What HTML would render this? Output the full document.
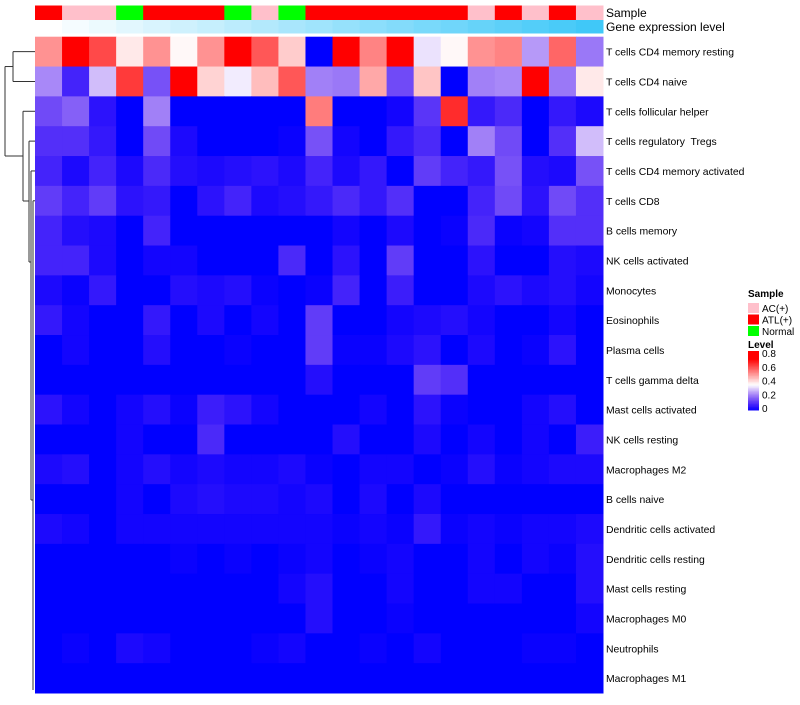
<!DOCTYPE html>
<html><head><meta charset="utf-8"><style>
body{margin:0;background:#fff;width:800px;height:700px;overflow:hidden;font-family:"Liberation Sans",sans-serif}
svg text{font-family:"Liberation Sans",sans-serif;white-space:pre}
</style></head><body>
<svg id="chart" width="800" height="700" xmlns="http://www.w3.org/2000/svg"></svg>
<script>
const rowLabels=["T cells CD4 memory resting","T cells CD4 naive","T cells follicular helper","T cells regulatory  Tregs","T cells CD4 memory activated","T cells CD8","B cells memory","NK cells activated","Monocytes","Eosinophils","Plasma cells","T cells gamma delta","Mast cells activated","NK cells resting","Macrophages M2","B cells naive","Dendritic cells activated","Dendritic cells resting","Mast cells resting","Macrophages M0","Neutrophils","Macrophages M1"];
const sampleGroups=["ATL(+)","AC(+)","AC(+)","Normal","ATL(+)","ATL(+)","ATL(+)","Normal","AC(+)","Normal","ATL(+)","ATL(+)","ATL(+)","ATL(+)","ATL(+)","ATL(+)","AC(+)","ATL(+)","AC(+)","ATL(+)","AC(+)"];
const geneLevel=[0,0.05,0.1,0.15,0.2,0.25,0.3,0.35,0.4,0.45,0.5,0.55,0.6,0.65,0.7,0.75,0.8,0.85,0.9,0.95,1];
const legendTicks=[0.8,0.6,0.4,0.2,0];
const v1=[.5,.7,.6,.38,.5,.36,.5,.7,.58,.42,0,.7,.52,.7,.32,.36,.5,.52,.24,.56,.2];
const v2=[.22,.08,.28,.62,.15,.7,.41,.33,.44,.58,.21,.2,.47,.14,.43,0,.21,.22,.7,.2,.38];
const v3=[.14,.17,.05,0,.21,0,0,0,0,0,.53,0,0,.02,.11,.64,.06,.09,0,.06,.03];
const v4=[.1,.1,.06,0,.14,.03,0,0,0,.01,.15,.02,0,.06,.09,0,.21,.14,0,.1,.28];
const v5=[.08,.03,.08,.03,.09,.04,.03,.04,.05,.03,.08,.03,.06,0,.12,.08,.06,.15,.04,.03,.15];
const v6=[.12,.08,.12,.05,.06,0,.05,.08,.03,.04,.06,.09,.06,.1,0,0,.08,.14,.05,.14,.1];
const v7=[.08,.04,.03,0,.08,0,0,0,0,0,0,.02,0,.03,0,.01,.09,.01,.02,.1,.1];
const v8=[.08,.08,.03,0,.02,.02,0,0,0,.09,0,.05,0,.12,0,0,.05,0,0,.04,.03];
const v9=[.03,.01,.06,0,0,.04,.03,.04,.01,0,.01,.08,0,.07,0,0,.03,.05,.03,.04,.02];
const v10=[.06,.02,0,0,.06,0,.03,0,.02,0,.12,0,0,.02,.03,.04,.02,0,0,.02,0];
const v11=[0,.02,0,0,.04,0,0,.01,0,0,.12,.01,.01,.03,.05,0,.03,0,.01,.05,0];
const v12=[0,0,0,0,0,0,0,0,0,0,.04,0,0,0,.12,.1,0,0,0,0,0];
const v13=[.05,.02,0,.02,.04,.01,.07,.05,.02,0,0,0,.02,0,.05,.01,0,0,.02,.04,0];
const v14=[0,0,0,.02,0,0,.09,0,0,0,0,.04,0,0,.03,0,.02,0,.02,0,.07];
const v15=[.03,.04,0,.02,.04,.02,.03,.02,.02,.03,.01,0,.02,.02,0,.01,.04,.01,.02,.03,.03];
const v16=[0,0,0,.02,0,.03,.04,.03,.03,.02,.03,0,.03,0,.03,0,0,0,0,0,0];
const v17=[.03,.02,0,.02,.02,.02,.02,.02,.02,.02,.02,.01,.02,.01,.06,.01,.02,.01,.02,.02,.03];
const v18=[0,0,0,0,0,.01,0,.01,0,.01,.02,0,.01,.02,0,0,.02,0,.02,.01,.04];
const v19=[0,0,0,0,0,0,0,0,0,.02,.04,0,0,.02,0,0,.02,.02,0,0,.04];
const v20=[0,0,0,0,0,0,0,0,0,0,.04,0,0,.01,0,0,0,0,0,0,.02];
const v21=[0,.01,0,.03,.02,0,0,0,.01,.02,0,0,.01,0,.02,0,0,0,.01,.01,0];
const v22=[0,0,0,0,0,0,0,0,0,0,0,0,0,0,0,0,0,0,0,0,0];
const values=[v1,v2,v3,v4,v5,v6,v7,v8,v9,v10,v11,v12,v13,v14,v15,v16,v17,v18,v19,v20,v21,v22];
const groupColors={"AC(+)":"#FFC0CB","ATL(+)":"#FF0000","Normal":"#00FF00"};

const NS="http://www.w3.org/2000/svg";
const svg=document.getElementById('chart');
function mk(tag,attrs,parent){const e=document.createElementNS(NS,tag);for(const k in attrs)e.setAttribute(k,attrs[k]);(parent||svg).appendChild(e);return e;}
const X0=35,X1=603,Y0=36.7,Y1=693;
const nC=sampleGroups.length,nR=rowLabels.length;
const cw=(X1-X0)/nC,rh=(Y1-Y0)/nR;
const xPos=c=>X0+c*cw;
const yPos=r=>Y0+r*rh;
function heatColor(v){
  const w=0.35,rd=0.7;
  let r,g,b;
  if(v<=w){const t=Math.max(0,v)/w;r=255*Math.pow(t,0.9);g=255*Math.pow(t,1.35);b=255-8*Math.sin(Math.PI*t);}
  else{const t=Math.min(1,(v-w)/(rd-w));r=255;g=255*(1-t);b=255*(1-t);}
  return `rgb(${Math.round(r)},${Math.round(g)},${Math.round(b)})`;
}
function levelColor(t){const r=255+(64-255)*t,g=255+(200-255)*t,b=255+(248-255)*t;return `rgb(${Math.round(r)},${Math.round(g)},${Math.round(b)})`;}

sampleGroups.forEach((s,c)=>{
  const e=mk('rect',{x:xPos(c),y:5.5,width:cw+0.5,height:14.5,fill:groupColors[s]});
  
  
});
geneLevel.forEach((g,c)=>{
  const e=mk('rect',{x:xPos(c),y:20,width:cw+0.5,height:13.5,fill:levelColor(g)});
  
  
});
let t=mk('text',{x:606,y:17,'font-size':12,fill:'#000'});t.textContent='Sample';

t=mk('text',{x:606,y:31,'font-size':12,fill:'#000'});t.textContent='Gene expression level';


values.forEach((row,r)=>{
  row.forEach((v,c)=>{
    const e=mk('rect',{x:xPos(c),y:yPos(r),width:cw+0.5,height:rh+0.5,fill:heatColor(v)});
    
    
  });
  const l=mk('text',{x:606,y:yPos(r)+rh/2+4,'font-size':10.4,fill:'#000'});
  l.textContent=rowLabels[r];
  
  
});

const dg=mk('g',{stroke:'#333','stroke-width':1,fill:'none'});

const yc=r=>yPos(r)+rh/2;
const segs=[
 [13,yc(0),35,yc(0)],[13,yc(1),35,yc(1)],[13,yc(0),13,yc(1)],
 [5,(yc(0)+yc(1))/2,13,(yc(0)+yc(1))/2],
 [5,(yc(0)+yc(1))/2,5,156],[5,156,23,156],
 [23,yc(2),35,yc(2)],[23,yc(2),23,201],[23,201,29,201],
 [29,yc(3),35,yc(3)],[29,yc(3),29,262],[29,262,31,262],
 [31,yc(4),35,yc(4)],[31,yc(4),31,500],[31,500,33,500],
 [33,yc(5),35,yc(5)],[33,yc(5),33,690]
];
segs.forEach(s=>mk('line',{x1:s[0],y1:s[1],x2:s[2],y2:s[3]},dg));

t=mk('text',{x:748,y:297,'font-size':10,'font-weight':'bold'});t.textContent='Sample';

["AC(+)","ATL(+)","Normal"].forEach((g,i)=>{
  const r=mk('rect',{x:748,y:303+i*11.5,width:11,height:10,fill:groupColors[g]});
  
  const tx=mk('text',{x:762,y:312+i*11.5,'font-size':10});tx.textContent=g;
  
});
t=mk('text',{x:748,y:348,'font-size':10,'font-weight':'bold'});t.textContent='Level';

const lgTop=351,lgBot=410;
for(let i=0;i<40;i++){
  const v=0.8*(1-i/40);
  mk('rect',{x:748,y:lgTop+i*(lgBot-lgTop)/40,width:11,height:(lgBot-lgTop)/40+0.5,fill:heatColor(v)});
}
legendTicks.forEach(v=>{
  const y=lgBot-(v/0.8)*(lgBot-lgTop-4)-2;
  const tx=mk('text',{x:762,y:y+4,'font-size':10});tx.textContent=v;
  
});
</script>
</body></html>
